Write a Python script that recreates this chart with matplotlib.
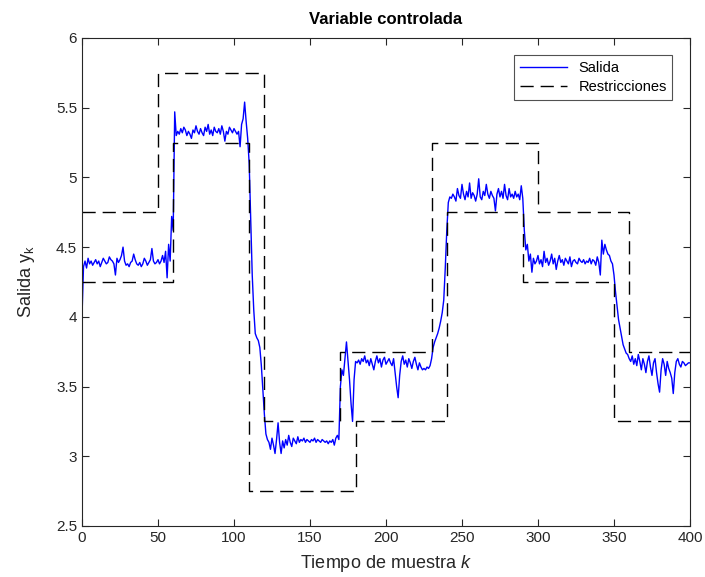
import numpy as np
import matplotlib
matplotlib.use("Agg")
from matplotlib import pyplot as plt

plt.rcParams['font.family'] = ['Liberation Sans', 'DejaVu Sans']
plt.rcParams['mathtext.fontset'] = 'custom'
plt.rcParams['mathtext.rm'] = 'Liberation Sans'
plt.rcParams['mathtext.it'] = 'Liberation Sans:italic'

# salida medida, una muestra por k = 0..400
salida = [
    4.00, 4.36, 4.40, 4.35, 4.42, 4.38, 4.40, 4.37, 4.39, 4.41,
    4.38, 4.40, 4.36, 4.39, 4.42, 4.40, 4.38, 4.39, 4.43, 4.41,
    4.40, 4.38, 4.30, 4.42, 4.39, 4.41, 4.44, 4.50, 4.40, 4.37,
    4.38, 4.36, 4.39, 4.40, 4.45, 4.41, 4.38, 4.37, 4.39, 4.36,
    4.38, 4.42, 4.40, 4.37, 4.39, 4.41, 4.49, 4.40, 4.38, 4.39,
    4.41, 4.38, 4.40, 4.44, 4.39, 4.47, 4.28, 4.52, 4.40, 4.72,
    4.62, 5.47, 5.30, 5.33, 5.31, 5.35, 5.32, 5.36, 5.34, 5.30,
    5.33, 5.31, 5.28, 5.34, 5.32, 5.37, 5.33, 5.31, 5.35, 5.32,
    5.30, 5.36, 5.33, 5.38, 5.31, 5.34, 5.30, 5.36, 5.33, 5.32,
    5.35, 5.31, 5.37, 5.33, 5.26, 5.33, 5.31, 5.36, 5.34, 5.32,
    5.35, 5.33, 5.31, 5.33, 5.22, 5.38, 5.42, 5.54, 5.40, 5.28,
    5.10, 4.70, 4.30, 4.05, 3.88, 3.85, 3.83, 3.78, 3.65, 3.48,
    3.30, 3.16, 3.12, 3.10, 3.05, 3.13, 3.08, 3.02, 3.12, 3.24,
    3.10, 3.02, 3.11, 3.06, 3.12, 3.08, 3.15, 3.10, 3.07, 3.13,
    3.11, 3.09, 3.14, 3.10, 3.12, 3.11, 3.13, 3.10, 3.12, 3.11,
    3.10, 3.12, 3.11, 3.13, 3.10, 3.12, 3.11, 3.10, 3.12, 3.11,
    3.10, 3.11, 3.09, 3.11, 3.10, 3.12, 3.08, 3.13, 3.15, 3.12,
    3.50, 3.62, 3.58, 3.70, 3.82, 3.68, 3.55, 3.38, 3.25, 3.55,
    3.68, 3.67, 3.69, 3.66, 3.70, 3.68, 3.72, 3.67, 3.69, 3.65,
    3.70, 3.66, 3.62, 3.68, 3.72, 3.67, 3.70, 3.64, 3.69, 3.71,
    3.66, 3.68, 3.70, 3.67, 3.65, 3.70, 3.60, 3.50, 3.42, 3.58,
    3.68, 3.72, 3.66, 3.69, 3.64, 3.70, 3.67, 3.63, 3.68, 3.71,
    3.66, 3.62, 3.67, 3.64, 3.62, 3.63, 3.62, 3.64, 3.63, 3.65,
    3.70, 3.78, 3.82, 3.85, 3.88, 3.92, 3.97, 4.03, 4.12, 4.35,
    4.62, 4.82, 4.86, 4.85, 4.88, 4.86, 4.83, 4.92, 4.87, 4.85,
    4.95, 4.88, 4.84, 4.90, 4.86, 4.96, 4.85, 4.89, 4.87, 4.83,
    4.88, 4.99, 4.86, 4.84, 4.90, 4.87, 4.95, 4.88, 4.85, 4.90,
    4.87, 4.85, 4.76, 4.88, 4.92, 4.86, 4.90, 4.85, 4.95, 4.87,
    4.84, 4.92, 4.86, 4.88, 4.85, 4.90, 4.86, 4.88, 4.84, 4.94,
    4.85, 4.62, 4.48, 4.52, 4.40, 4.45, 4.32, 4.42, 4.38, 4.40,
    4.44, 4.38, 4.41, 4.36, 4.47, 4.39, 4.42, 4.37, 4.40, 4.45,
    4.38, 4.42, 4.34, 4.40, 4.44, 4.39, 4.41, 4.37, 4.42, 4.40,
    4.38, 4.43, 4.36, 4.40, 4.41, 4.39, 4.38, 4.42, 4.40, 4.39,
    4.41, 4.38, 4.40, 4.39, 4.42, 4.38, 4.41, 4.40, 4.37, 4.43,
    4.39, 4.30, 4.55, 4.45, 4.52, 4.48, 4.45, 4.44, 4.40, 4.38,
    4.30, 4.18, 4.08, 3.98, 3.92, 3.86, 3.80, 3.77, 3.74, 3.73,
    3.70, 3.68, 3.72, 3.66, 3.70, 3.65, 3.73, 3.68, 3.62, 3.70,
    3.66, 3.60, 3.68, 3.72, 3.64, 3.58, 3.67, 3.70, 3.60, 3.52,
    3.46, 3.62, 3.70, 3.66, 3.58, 3.68, 3.63, 3.60, 3.56, 3.45,
    3.60, 3.68, 3.70, 3.66, 3.64, 3.68, 3.67, 3.65, 3.66, 3.67,
    3.67,
]

# restricciones (escalones)
sup_k = [0, 50, 120, 170, 230, 300, 360, 400]
sup_v = [4.75, 5.75, 3.25, 3.75, 5.25, 4.75, 3.75, 3.75]
inf_k = [0, 60, 110, 180, 240, 290, 350, 400]
inf_v = [4.25, 5.25, 2.75, 3.25, 4.75, 4.25, 3.25, 3.25]

gris = (0.15, 0.15, 0.15)

fig = plt.figure(figsize=(7.05, 5.77), dpi=100)
ax = fig.add_axes([0.1163, 0.0884, 0.8624, 0.8458])

k = np.arange(len(salida))
ax.plot(k, salida, color=(0, 0, 1), lw=1.0, label='Salida')
ax.step(sup_k, sup_v, where='post', color='k', lw=1.0, dashes=(9.5, 5),
        label='Restricciones')
ax.step(inf_k, inf_v, where='post', color='k', lw=1.0, dashes=(9.5, 5))

ax.set_xlim(0, 400)
ax.set_ylim(2.5, 6)
ax.set_xticks(np.arange(0, 401, 50))
ax.set_yticks(np.arange(2.5, 6.01, 0.5))
ax.set_yticklabels(['2.5', '3', '3.5', '4', '4.5', '5', '5.5', '6'])

ax.tick_params(direction='in', length=5, width=0.8, colors=gris,
               labelsize=11, top=True, right=True, labeltop=False, labelright=False)
for s in ax.spines.values():
    s.set_color(gris)
    s.set_linewidth(0.8)

ax.set_title('Variable controlada', fontsize=12, fontweight='bold', color='k', pad=10)
ax.set_xlabel('Tiempo de muestra $\\mathit{k}$', fontsize=13, color=gris, labelpad=6)
ax.set_ylabel('Salida y$_\\mathregular{k}$', fontsize=13, color=gris, labelpad=14)

leg = ax.legend(loc='upper right', fontsize=10.5, frameon=True, fancybox=False,
                borderaxespad=1.2, handlelength=3.2, labelspacing=0.3)
leg.get_frame().set_edgecolor(gris)
leg.get_frame().set_linewidth(0.8)

fig.savefig('out.png', dpi=100)
